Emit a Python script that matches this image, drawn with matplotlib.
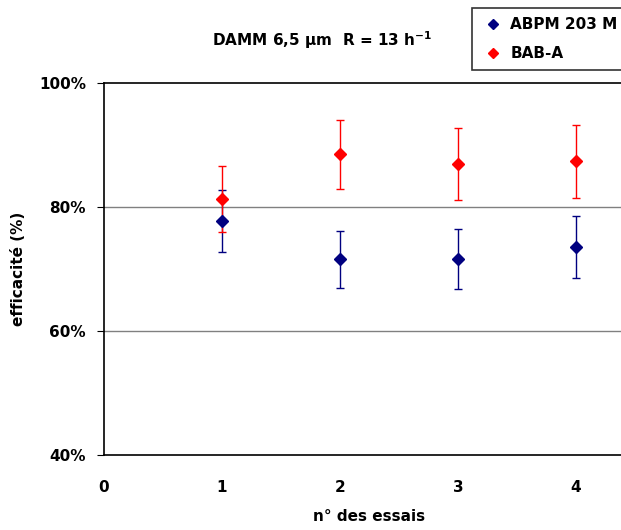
import matplotlib.pyplot as plt
from matplotlib.lines import Line2D
from matplotlib.ticker import FuncFormatter

# Data
essais = [1, 2, 3, 4]
abpm_eff = [77.7, 71.6, 71.6, 73.6]
abpm_err = [5.0, 4.6, 4.8, 5.0]
baba_eff = [81.3, 88.5, 86.9, 87.4]
baba_err = [5.3, 5.6, 5.8, 5.9]
x_ticks = [0, 1, 2, 3, 4]
y_ticks = [40, 60, 80, 100]

plt.rcParams['font.family'] = ['DejaVu Sans']
plt.rcParams['font.weight'] = 'bold'

fig = plt.figure(figsize=(6.21, 5.30), dpi=100)
ax = fig.add_axes([104 / 621, 75 / 530, 531 / 621, 372 / 530])

# Horizontal grid lines
for yv in [60, 80]:
    ax.axhline(yv, color='#808080', linewidth=1, zorder=0)

ax.errorbar(essais, abpm_eff, yerr=abpm_err, fmt='D', color='#000080',
            markersize=6, capsize=3, elinewidth=1)
ax.errorbar(essais, baba_eff, yerr=baba_err, fmt='D', color='#FF0000',
            markersize=6, capsize=3, elinewidth=1)

ax.set_xlim(0, 4.5)
ax.set_ylim(40, 100)
ax.set_xticks(x_ticks)
ax.set_yticks(y_ticks)
ax.yaxis.set_major_formatter(FuncFormatter(lambda v, p: f'{v:.0f}%'))
ax.tick_params(axis='x', length=0, pad=18, labelsize=11)
ax.tick_params(axis='y', length=5, pad=8, labelsize=11, direction='out')

for s in ax.spines.values():
    s.set_linewidth(1.2)
    s.set_color('black')

ax.set_xlabel('n° des essais', fontsize=11, fontweight='bold', labelpad=10)
ax.set_ylabel('efficacité (%)', fontsize=11, fontweight='bold', labelpad=9)

fig.text(322 / 621, 1 - 40 / 530, r'DAMM 6,5 µm  R = 13 h$^{\mathbf{-1}}$',
         ha='center', va='center', fontsize=11, fontweight='bold')

handles = [
    Line2D([], [], marker='D', linestyle='none', color='#000080', markersize=5),
    Line2D([], [], marker='D', linestyle='none', color='#FF0000', markersize=5),
]
leg = fig.legend(handles, ['ABPM 203 M', 'BAB-A'], loc='upper left',
                 bbox_to_anchor=(472 / 621, 1 - 8 / 530), borderaxespad=0,
                 fontsize=11, frameon=True, fancybox=False, edgecolor='black',
                 handlelength=1.6, handletextpad=0.3, borderpad=0.6,
                 labelspacing=0.9)
leg.get_frame().set_linewidth(1.2)

plt.savefig('out.png', dpi=100)
